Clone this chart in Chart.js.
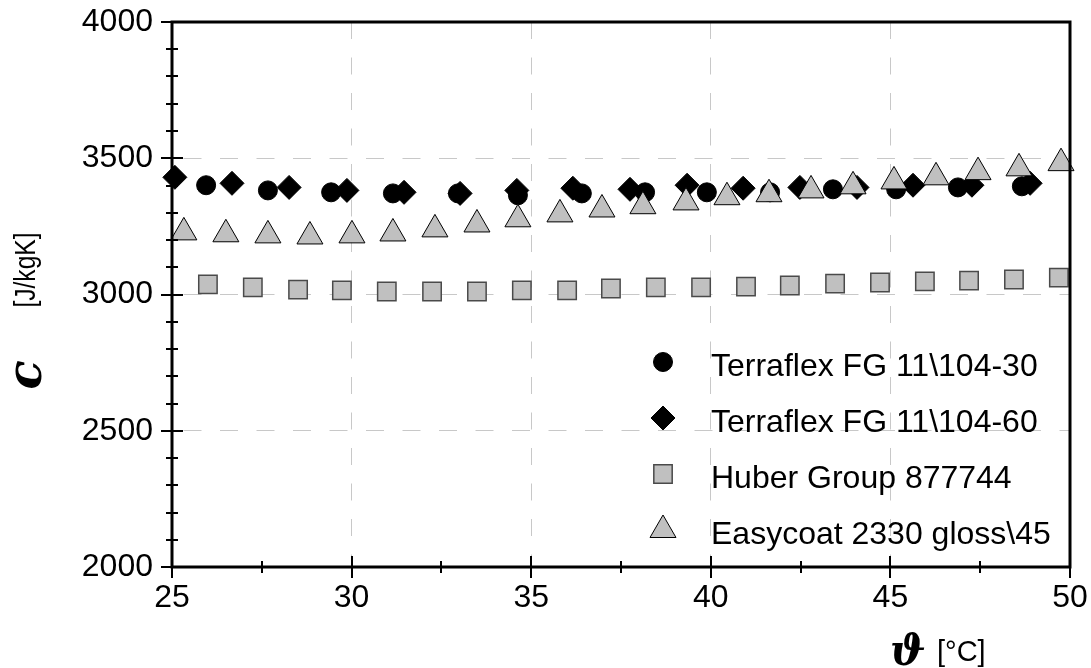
<!DOCTYPE html>
<html>
<head>
<meta charset="utf-8">
<script src="https://cdn.jsdelivr.net/npm/chart.js"></script>
<style>
  html, body { margin: 0; padding: 0; background: #fff; }
  canvas { display: block; }
</style>
</head>
<body>
<canvas id="chart" width="1091" height="668"></canvas>
<script>
// Data
const seriesNames = ['Terraflex FG 11\\104-30', 'Terraflex FG 11\\104-60', 'Huber Group 877744', 'Easycoat 2330 gloss\\45'];

const circleX = [25.95, 27.67, 29.43, 31.15, 32.96, 34.63, 36.41, 38.17, 39.89, 41.65, 43.40, 45.16, 46.88, 48.66];
const circleY = [3401, 3382, 3375, 3371, 3371, 3364, 3371, 3375, 3375, 3375, 3386, 3386, 3393, 3397];

const diamondX = [25.08, 26.67, 28.26, 29.87, 31.46, 33.02, 34.60, 36.16, 37.75, 39.34, 40.90, 42.48, 44.07, 45.63, 47.27, 48.89];
const diamondY = [3430, 3408, 3393, 3382, 3375, 3371, 3382, 3390, 3386, 3401, 3390, 3393, 3393, 3401, 3401, 3408];

const squareX = [26.00, 27.25, 28.51, 29.73, 30.98, 32.24, 33.49, 34.74, 36.00, 37.22, 38.47, 39.73, 40.98, 42.20, 43.46, 44.71, 45.96, 47.19, 48.44, 49.69];
const squareY = [3037, 3026, 3018, 3015, 3011, 3011, 3011, 3015, 3015, 3022, 3026, 3026, 3029, 3033, 3040, 3044, 3048, 3051, 3055, 3062];

const triangleX = [25.33, 26.50, 27.67, 28.84, 30.01, 31.15, 32.32, 33.49, 34.63, 35.80, 36.97, 38.11, 39.31, 40.45, 41.62, 42.79, 43.96, 45.10, 46.27, 47.44, 48.58, 49.75];
const triangleY = [3228, 3221, 3217, 3213, 3217, 3224, 3239, 3257, 3276, 3294, 3312, 3324, 3338, 3357, 3368, 3382, 3397, 3415, 3430, 3449, 3463, 3482];

const xMin = 25, xMax = 50, xStep = 2.5, xLabelStep = 5;
const yMin = 2000, yMax = 4000, yStep = 100, yLabelStep = 500;

const FONT = '"Liberation Sans", Arial, sans-serif';

function points(xs, ys) {
    return xs.map((x, i) => ({ x: x, y: ys[i] }));
}

function isLabelTick(v, step) {
    return Math.abs(v / step - Math.round(v / step)) < 1e-6;
}

// Crossing tick marks, frame, legend and axis titles
const decorPlugin = {
    id: 'decor',
    afterDatasetsDraw(chart) {
        const { ctx, chartArea: a, scales: { x, y } } = chart;
        ctx.save();
        ctx.strokeStyle = '#000';

        // ticks crossing the axes
        ctx.lineWidth = 2;
        ctx.beginPath();
        y.ticks.forEach(t => {
            const py = Math.round(y.getPixelForValue(t.value));
            const len = isLabelTick(t.value, yLabelStep) ? 11 : 6;
            ctx.moveTo(a.left - len, py);
            ctx.lineTo(a.left + len, py);
        });
        x.ticks.forEach(t => {
            const px = Math.round(x.getPixelForValue(t.value));
            const len = isLabelTick(t.value, xLabelStep) ? 11 : 6;
            ctx.moveTo(px, a.bottom - len);
            ctx.lineTo(px, a.bottom + len);
        });
        ctx.stroke();

        // frame
        ctx.lineWidth = 3;
        ctx.strokeRect(a.left, a.top, a.right - a.left, a.bottom - a.top);

        // legend inside the plot
        const markerX = a.right - 407;
        const textX = a.right - 359;
        let rowY = a.bottom - 205;
        ctx.font = '32px ' + FONT;
        ctx.textAlign = 'left';
        ctx.textBaseline = 'alphabetic';
        chart.data.datasets.forEach(ds => {
            ctx.fillStyle = ds.backgroundColor;
            ctx.strokeStyle = ds.borderColor;
            ctx.lineWidth = ds.borderWidth;
            Chart.helpers.drawPoint(ctx, {
                pointStyle: ds.pointStyle,
                radius: ds.pointRadius,
                rotation: 0,
                borderWidth: ds.borderWidth
            }, markerX, rowY);
            ctx.fillStyle = '#000';
            ctx.fillText(ds.label, textX, rowY + 14);
            rowY += 56;
        });

        // x axis title
        ctx.fillStyle = '#000';
        ctx.font = 'italic bold 42px "DejaVu Serif", serif';
        ctx.fillText('\u03D1', a.right - 180, 665);
        ctx.font = '29px ' + FONT;
        ctx.fillText('[\u00B0C]', a.right - 133, 661);

        // y axis title (rotated)
        ctx.save();
        ctx.translate(35, a.top + 248);
        ctx.rotate(-Math.PI / 2);
        ctx.scale(0.82, 1);
        ctx.textAlign = 'center';
        ctx.font = '30px ' + FONT;
        ctx.fillText('[J/kgK]', 0, 0);
        ctx.restore();

        ctx.save();
        ctx.translate(41, a.top + 353);
        ctx.rotate(-Math.PI / 2);
        ctx.textAlign = 'center';
        ctx.font = 'italic bold 48px "DejaVu Serif", serif';
        ctx.fillText('c', 0, 0);
        ctx.restore();

        ctx.restore();
    }
};

new Chart(document.getElementById('chart'), {
    type: 'scatter',
    data: {
        datasets: [
            {
                label: seriesNames[0],
                data: points(circleX, circleY),
                pointStyle: 'circle',
                pointRadius: 9.5,
                backgroundColor: '#000',
                borderColor: '#000',
                borderWidth: 1,
                order: 2,
                clip: false
            },
            {
                label: seriesNames[1],
                data: points(diamondX, diamondY),
                pointStyle: 'rectRot',
                pointRadius: 12,
                backgroundColor: '#000',
                borderColor: '#000',
                borderWidth: 1,
                order: 1,
                clip: false
            },
            {
                label: seriesNames[2],
                data: points(squareX, squareY),
                pointStyle: 'rect',
                pointRadius: 13,
                backgroundColor: '#c0c0c0',
                borderColor: '#4a4a4a',
                borderWidth: 1.5,
                order: 3,
                clip: false
            },
            {
                label: seriesNames[3],
                data: points(triangleX, triangleY),
                pointStyle: 'triangle',
                pointRadius: 15,
                backgroundColor: '#c0c0c0',
                borderColor: '#000',
                borderWidth: 1,
                order: 0,
                clip: false
            }
        ]
    },
    options: {
        responsive: false,
        animation: false,
        events: [],
        layout: { padding: { left: 0, top: 22, right: 21, bottom: 0 } },
        plugins: {
            legend: { display: false },
            tooltip: { enabled: false }
        },
        scales: {
            x: {
                type: 'linear',
                min: xMin,
                max: xMax,
                afterFit: s => {
                    s.height = 101;
                    s.paddingLeft = 0;
                    s.paddingRight = 0;
                },
                ticks: {
                    stepSize: xStep,
                    autoSkip: false,
                    maxRotation: 0,
                    padding: 12,
                    color: '#000',
                    font: { family: FONT, size: 32 },
                    callback: v => isLabelTick(v, xLabelStep) ? String(v) : ''
                },
                grid: {
                    drawTicks: false,
                    lineWidth: 1,
                    color: c => (c.tick && isLabelTick(c.tick.value, xLabelStep) && c.tick.value > xMin && c.tick.value < xMax) ? '#c8c8c8' : 'rgba(0,0,0,0)'
                },
                border: { display: false, dash: [17, 18.5], dashOffset: 0 }
            },
            y: {
                type: 'linear',
                min: yMin,
                max: yMax,
                afterFit: s => {
                    s.width = 172;
                    s.paddingTop = 0;
                    s.paddingBottom = 0;
                },
                ticks: {
                    stepSize: yStep,
                    autoSkip: false,
                    padding: 19,
                    color: '#000',
                    font: { family: FONT, size: 32 },
                    callback: v => isLabelTick(v, yLabelStep) ? String(v) : ''
                },
                grid: {
                    drawTicks: false,
                    lineWidth: 1,
                    color: c => (c.tick && isLabelTick(c.tick.value, yLabelStep) && c.tick.value > yMin && c.tick.value < yMax) ? '#c8c8c8' : 'rgba(0,0,0,0)'
                },
                border: { display: false, dash: [18, 18.5], dashOffset: 25 }
            }
        }
    },
    plugins: [decorPlugin]
});
</script>
</body>
</html>
